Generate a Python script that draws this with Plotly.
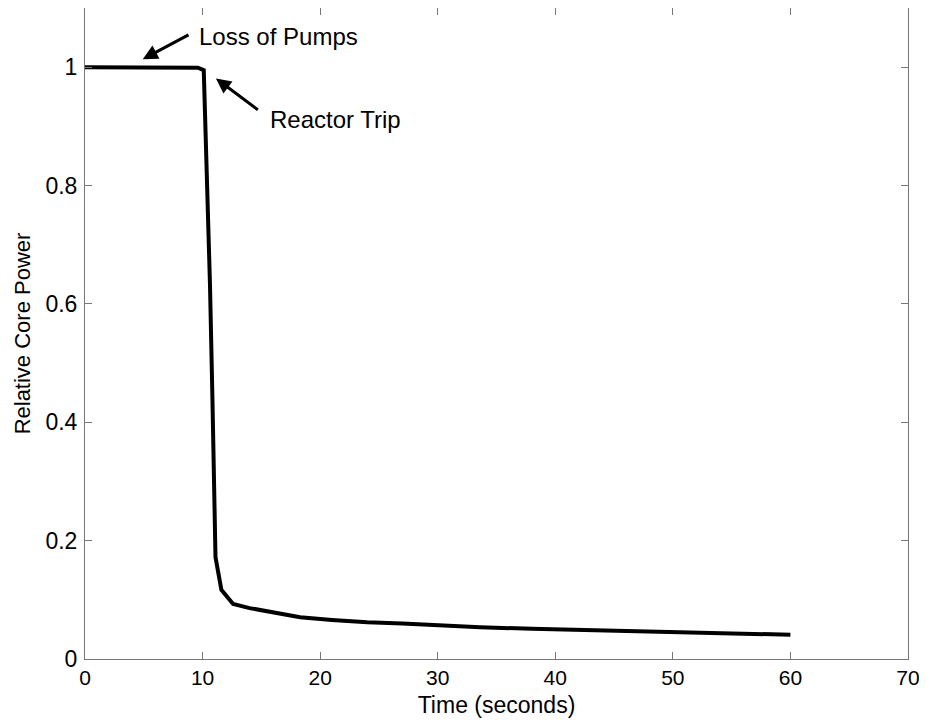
import plotly.graph_objects as go

time_s = [0, 9.0, 9.6, 10.1, 10.38, 10.63, 10.84, 11.01, 11.1, 11.6, 12.6, 14.0, 15.5,
          18.3, 21.0, 24.0, 27.0, 30.0, 33.6, 38.0, 43.8, 50.0, 55.0, 60.0]
power = [1.0, 1.0, 0.999, 0.995, 0.81, 0.633, 0.438, 0.22, 0.172, 0.117, 0.093, 0.086, 0.080,
         0.0705, 0.066, 0.062, 0.060, 0.057, 0.0536, 0.051, 0.048, 0.045, 0.043, 0.041]

x_ticks = [0, 10, 20, 30, 40, 50, 60, 70]
y_ticks = [0, 0.2, 0.4, 0.6, 0.8, 1]
y_tick_text = ["0", "0.2", "0.4", "0.6", "0.8", "1"]

FONT = "Liberation Sans, Arial, sans-serif"

fig = go.Figure()
fig.add_trace(go.Scatter(x=time_s, y=power, mode="lines",
                         line=dict(color="black", width=4), showlegend=False))

arrows = [
    dict(head=(4.91, 1.0135), tail=(8.93, 1.056), text="Loss of Pumps", tpos=(9.53, 1.052)),
    dict(head=(11.14, 0.981), tail=(14.83, 0.926), text="Reactor Trip", tpos=(15.57, 0.912)),
]
for a in arrows:
    fig.add_annotation(x=a["head"][0], y=a["head"][1], ax=a["tail"][0], ay=a["tail"][1],
                       xref="x", yref="y", axref="x", ayref="y", text="",
                       showarrow=True, arrowhead=2, arrowsize=1, arrowwidth=3,
                       arrowcolor="black", standoff=0, startstandoff=0)
    fig.add_annotation(x=a["tpos"][0], y=a["tpos"][1], xref="x", yref="y", text=a["text"],
                       showarrow=False, xanchor="left", yanchor="middle",
                       font=dict(family=FONT, size=24, color="black"))

axis_common = dict(showline=True, mirror="ticks", linecolor="#777", linewidth=1,
                   ticks="inside", ticklen=7, tickcolor="#777", tickwidth=1,
                   showgrid=False, zeroline=False, automargin=False)

fig.update_xaxes(range=[0, 70], tickvals=x_ticks, **axis_common,
                 tickfont=dict(family=FONT, size=21, color="black"),
                 title=dict(text="Time (seconds)", font=dict(family=FONT, size=23, color="black"),
                            standoff=8))
fig.update_yaxes(range=[0, 1.1], tickvals=y_ticks, ticktext=y_tick_text, **axis_common,
                 tickfont=dict(family=FONT, size=23, color="black"),
                 ticklabelstandoff=2,
                 title=dict(text="Relative Core Power", font=dict(family=FONT, size=22, color="black"),
                            standoff=8))

fig.update_layout(width=919, height=716, plot_bgcolor="white", paper_bgcolor="white",
                  margin=dict(l=77, r=19, t=0, b=65))

fig.write_html("out.html")
